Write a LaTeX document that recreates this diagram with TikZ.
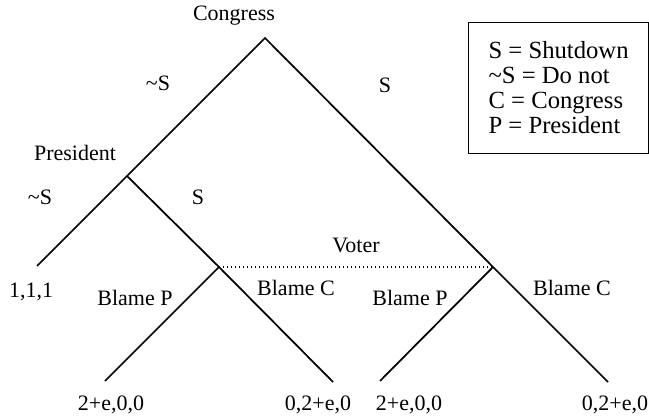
\documentclass[tikz,border=0pt]{standalone}
\usepackage{fontspec}
\setmainfont{Liberation Serif}
\newfontfamily\treefont{Liberation Serif}
\usetikzlibrary{positioning}
\tikzset{
  branch/.style={line width=1.3pt},
  infoset/.style={dotted, line width=1pt},
  lbl/.style={font=\treefont\fontsize{16.5}{19}\selectfont, inner sep=0pt},
  pay/.style={font=\treefont\fontsize{16.5}{19}\selectfont, inner sep=0pt},
  keybox/.style={draw, line width=0.9pt, align=left, font=\treefont\fontsize{18.5}{18.75}\selectfont,
    minimum width=135pt, minimum height=98pt},
}

\begin{document}
\begin{tikzpicture}[x=0.75pt, y=-0.75pt]
\useasboundingbox (0,0) rectangle (649,420);

% decision points and ends
\coordinate (root) at (265,38);
\coordinate (pres) at (127,176);
\coordinate (voterL) at (219,267);
\coordinate (voterR) at (493,267);
\coordinate (endA) at (37,266);
\coordinate (endB) at (105,381);
\coordinate (endC) at (333,382);
\coordinate (endD) at (380,381);
\coordinate (endE) at (608,382);

\draw[branch] (endA) -- (pres) -- (root) -- (voterR) -- (endE);
\draw[branch] (pres) -- (voterL) -- (endC);
\draw[branch] (voterL) -- (endB);
\draw[branch] (voterR) -- (endD);
\draw[infoset] (voterL) -- (voterR);

% players
\node[lbl] (congress) at (234,16) {Congress};
\node[lbl] (president) at (75,153) {President};
\node[lbl] (voter) at (356,245) {Voter};

% moves
\node[lbl] (notS1) at (158,83) {\textasciitilde S};
\node[lbl] (S1) at (385,85) {S};
\node[lbl] (notS2) at (40,197) {\textasciitilde S};
\node[lbl] (S2) at (198,197) {S};
\node[lbl] (blamePL) at (135,298) {Blame P};
\node[lbl] (blameCL) at (296,288) {Blame C};
\node[lbl] (blamePR) at (410,298) {Blame P};
\node[lbl] (blameCR) at (572,288) {Blame C};

% payoffs
\node[pay] (payA) at (31,292) {1,1,1};
\node[pay] (payB) at (111,405) {2+e,0,0};
\node[pay] (payC) at (318,405) {0,2+e,0};
\node[pay] (payD) at (409,405) {2+e,0,0};
\node[pay] (payE) at (615,405) {0,2+e,0};

% key
\node[keybox, anchor=north west] (key) at (468,22)
  {S = Shutdown\\\textasciitilde S = Do not\\C = Congress\\P = President};

\end{tikzpicture}
\end{document}
